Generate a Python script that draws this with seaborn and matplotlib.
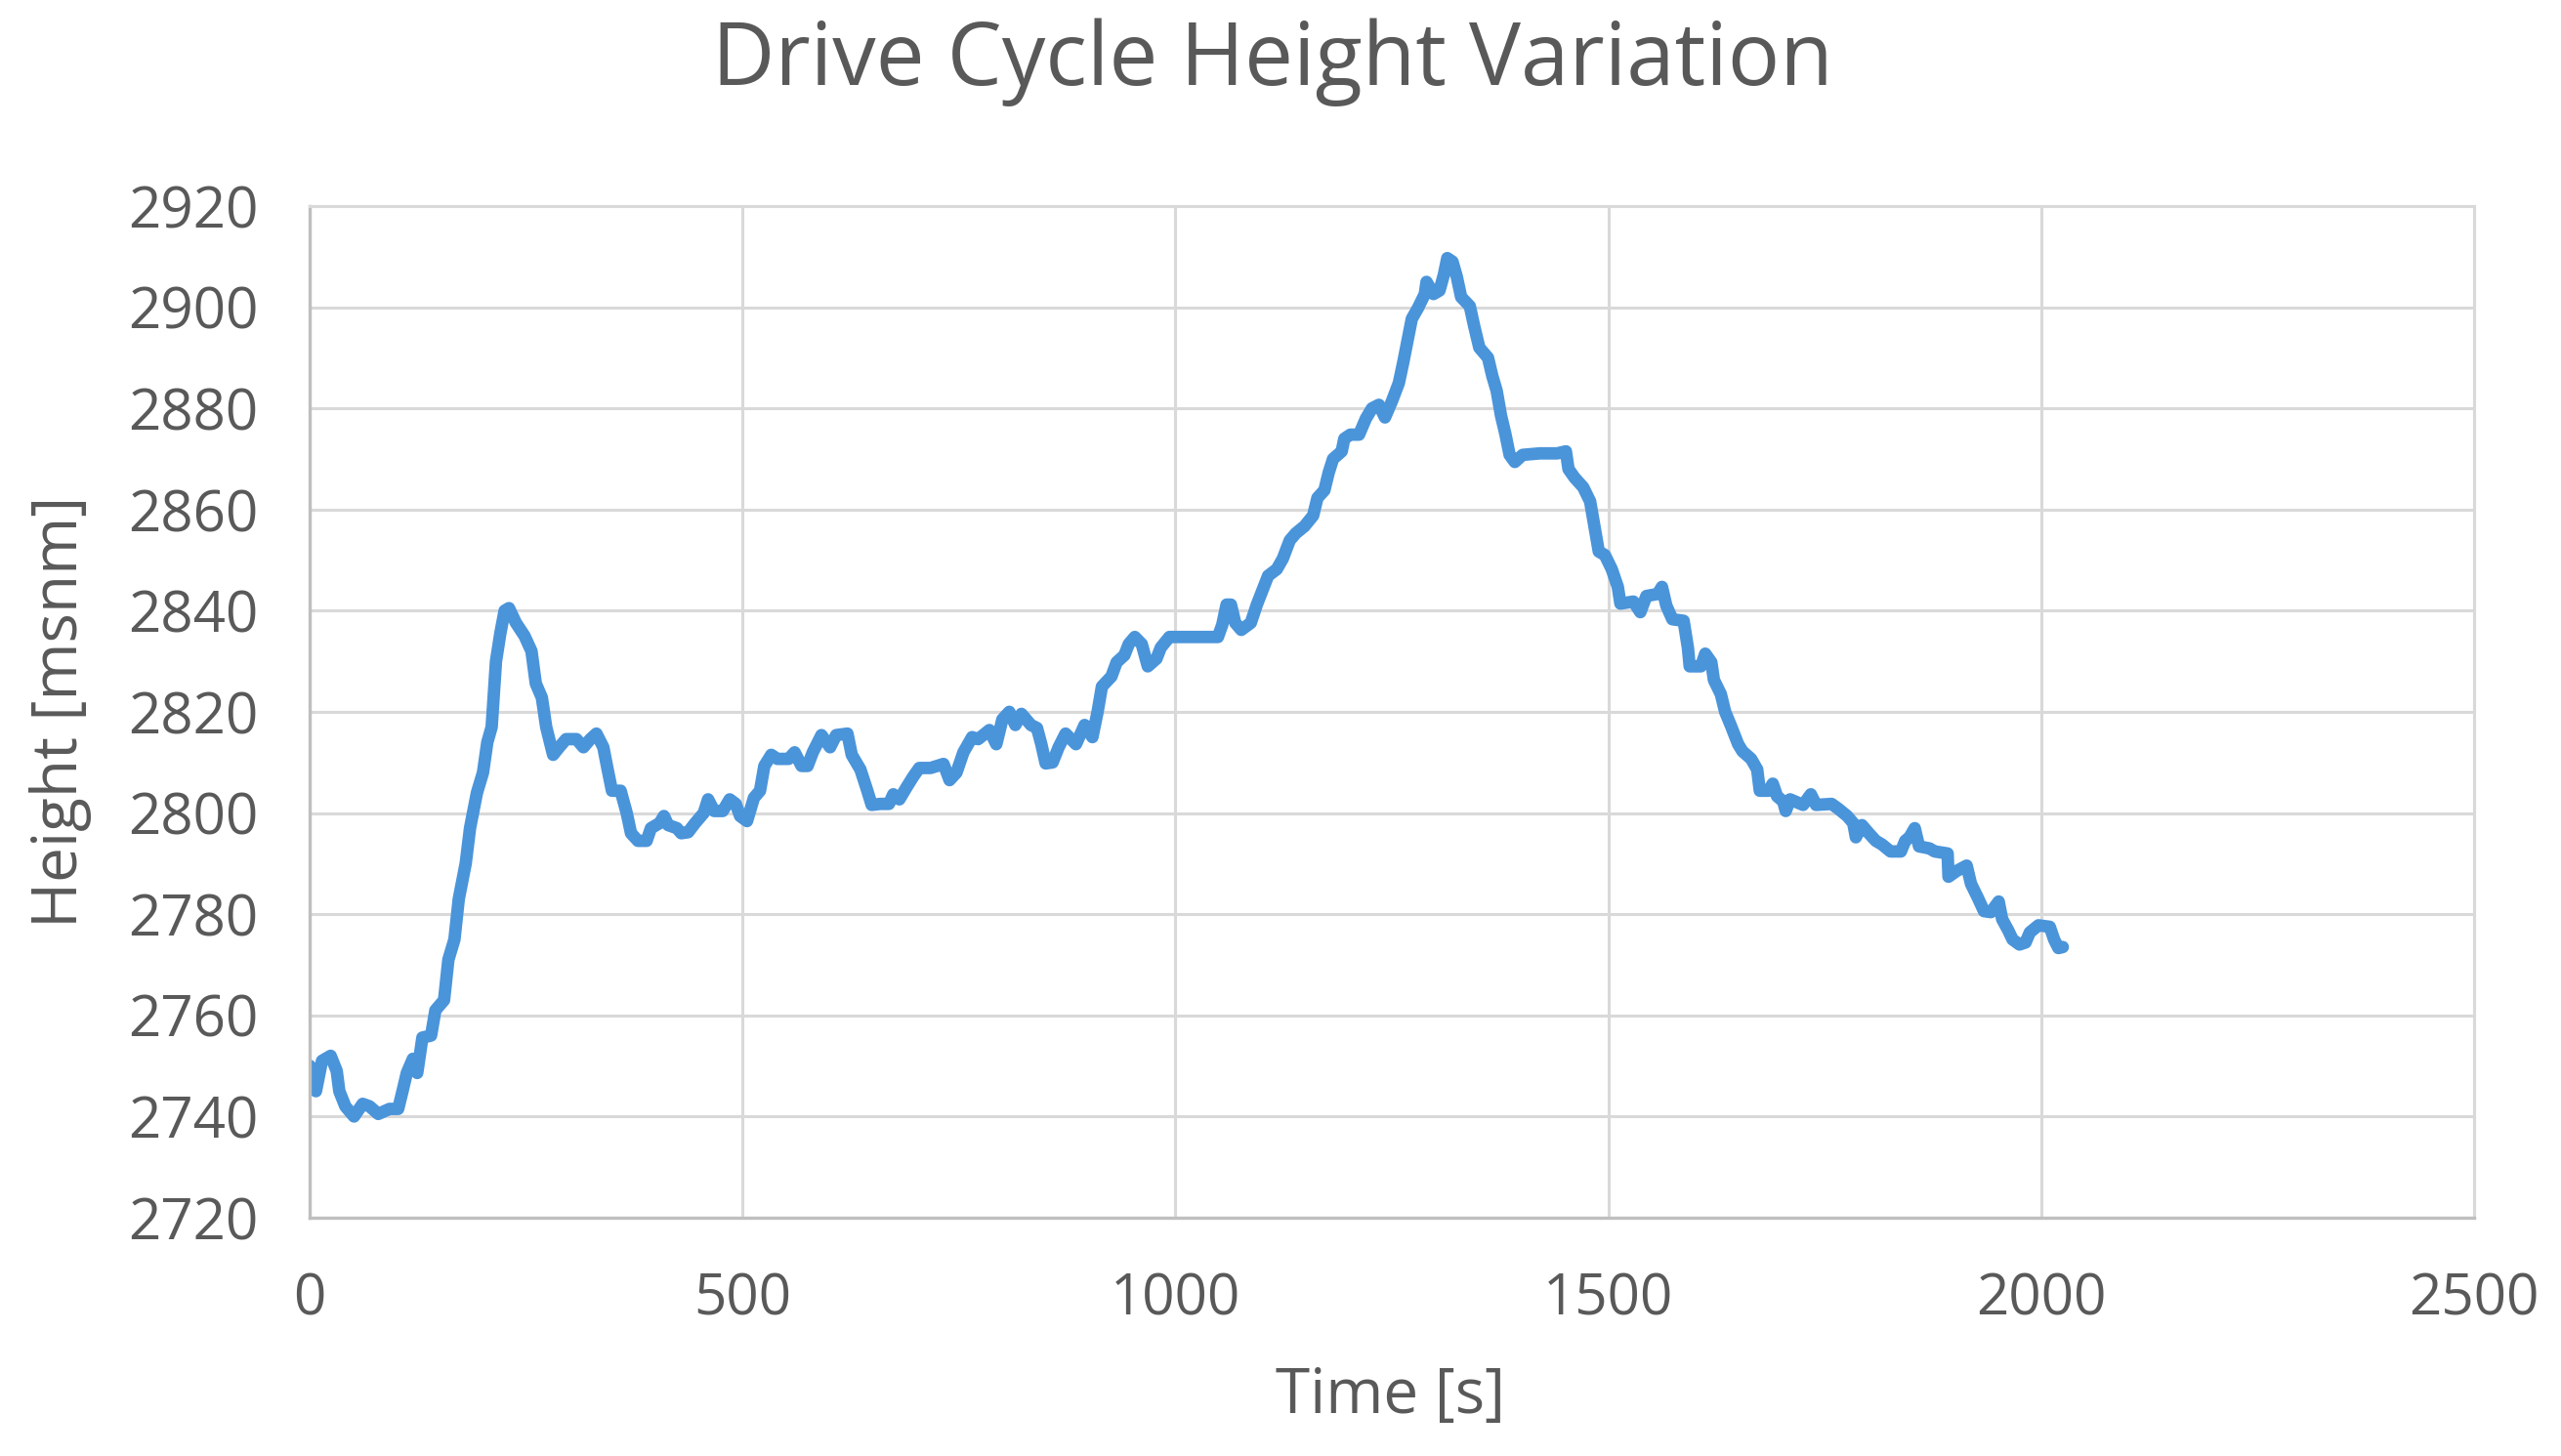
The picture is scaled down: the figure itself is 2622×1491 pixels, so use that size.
import numpy as np
import pandas as pd
import seaborn as sns
import matplotlib.pyplot as plt

# values
time_s = [
    0, 7, 14, 24, 31, 34, 41, 51, 61, 69, 79, 92, 102, 107, 112, 119, 124, 130,
    140, 145, 155, 160, 167, 172, 180, 185, 193, 200, 205, 210, 215, 220, 225,
    230, 238, 248, 256, 261, 268, 273, 281, 288, 296, 308, 316, 324, 331, 339,
    344, 349, 359, 366, 371, 379, 389, 394, 404, 409, 414, 424, 429, 437, 445,
    455, 460, 467, 477, 485, 492, 497, 505, 513, 520, 525, 533, 540, 553, 560,
    568, 575, 581, 591, 601, 608, 621, 626, 636, 644, 649, 659, 669, 674, 681,
    689, 697, 704, 717, 732, 739, 747, 755, 765, 772, 785, 793, 800, 808, 815,
    822, 833, 840, 845, 850, 858, 865, 873, 885, 895, 904, 910, 915, 926, 932,
    941, 946, 953, 961, 968, 978, 983, 993, 1049, 1054, 1059, 1064, 1069, 1076,
    1087, 1094, 1102, 1107, 1117, 1124, 1132, 1139, 1149, 1159, 1164, 1172,
    1177, 1182, 1192, 1195, 1202, 1212, 1220, 1227, 1235, 1242, 1250, 1258,
    1263, 1268, 1273, 1280, 1288, 1290, 1298, 1305, 1310, 1314, 1320, 1325,
    1330, 1340, 1345, 1351, 1361, 1366, 1371, 1376, 1381, 1386, 1392, 1401,
    1421, 1441, 1451, 1454, 1461, 1471, 1479, 1484, 1489, 1496, 1504, 1511,
    1514, 1529, 1537, 1544, 1557, 1562, 1567, 1574, 1587, 1592, 1594, 1607,
    1612, 1619, 1622, 1630, 1635, 1642, 1650, 1655, 1665, 1672, 1675, 1685,
    1690, 1695, 1702, 1705, 1710, 1725, 1734, 1740, 1758, 1766, 1776, 1783,
    1786, 1793, 1801, 1809, 1816, 1826, 1838, 1843, 1848, 1854, 1859, 1871,
    1877, 1892, 1893, 1902, 1914, 1919, 1927, 1934, 1942, 1951, 1955, 1962,
    1967, 1975, 1982, 1987, 1997, 2010, 2015, 2020, 2025,
]
height_m = [
    2750, 2745, 2751, 2752, 2749, 2745, 2742, 2740, 2742.5, 2742, 2740.5,
    2741.5, 2741.5, 2745, 2748.6, 2751.4, 2748.6, 2755.6, 2756, 2761, 2763,
    2771, 2775, 2783, 2790, 2797, 2804, 2808, 2814, 2817, 2830, 2835.5, 2840,
    2840.5, 2837.6, 2835, 2832, 2825.6, 2822.8, 2817, 2811.5, 2813, 2814.6,
    2814.6, 2813, 2814.6, 2815.7, 2813, 2808.6, 2804.4, 2804.4, 2800, 2796,
    2794.5, 2794.5, 2797, 2798, 2799.4, 2797.6, 2797, 2796, 2796.2, 2798, 2800,
    2802.7, 2800.4, 2800.4, 2802.7, 2801.8, 2799.4, 2798.4, 2803, 2804.4,
    2809.3, 2811.5, 2810.7, 2810.7, 2812, 2809.3, 2809.3, 2812, 2815.4, 2813,
    2815.4, 2815.7, 2811.5, 2808.6, 2804.4, 2801.6, 2801.8, 2801.8, 2803.7,
    2802.7, 2805, 2807.2, 2808.9, 2808.9, 2809.7, 2806.5, 2808, 2812, 2815,
    2814.6, 2816.4, 2813.6, 2818.5, 2820, 2817.4, 2819.6, 2817.4, 2816.8,
    2813.6, 2809.8, 2810, 2813, 2815.7, 2813.6, 2817.4, 2815, 2820, 2825, 2827,
    2829.8, 2831.2, 2833.4, 2834.8, 2833.4, 2829, 2830.5, 2832.7, 2834.8,
    2834.8, 2837.2, 2841.2, 2841.2, 2837.6, 2836.2, 2837.6, 2841.2, 2844.7,
    2846.9, 2848.2, 2850.3, 2853.9, 2855.3, 2856.7, 2858.8, 2862.3, 2863.8,
    2867.3, 2870, 2871.5, 2874, 2874.8, 2874.8, 2878, 2880, 2880.7, 2878.2,
    2881.4, 2885, 2889, 2893.4, 2897.7, 2899.8, 2902.6, 2905, 2902.6, 2903.3,
    2906.4, 2909.7, 2909, 2906, 2902, 2900.2, 2896.3, 2892, 2890, 2886.4,
    2883.5, 2878.6, 2875, 2870.8, 2869.4, 2870.8, 2871.1, 2871.1, 2871.5, 2868,
    2866.3, 2864.4, 2861.6, 2856.7, 2851.7, 2851, 2848.2, 2844.7, 2841.4,
    2841.8, 2839.7, 2842.9, 2843.3, 2844.7, 2841, 2838.3, 2838, 2832.6, 2829,
    2829, 2831.5, 2829.8, 2826.3, 2823.5, 2820, 2817.1, 2813.6, 2812.2, 2810.7,
    2808.6, 2804.4, 2804.4, 2805.8, 2803.3, 2802.3, 2800.4, 2802.7, 2801.6,
    2803.7, 2801.6, 2801.8, 2800.8, 2799.4, 2798, 2795.2, 2797.6, 2796, 2794.5,
    2793.8, 2792.4, 2792.4, 2794.5, 2795.2, 2797, 2793.4, 2793, 2792.4, 2792,
    2787.4, 2788.5, 2789.6, 2786, 2783.2, 2780.6, 2780.4, 2782.5, 2779, 2776.8,
    2775, 2774, 2774.4, 2776.4, 2777.8, 2777.5, 2775, 2773.3, 2773.5,
]

x_ticks = [0, 500, 1000, 1500, 2000, 2500]
y_ticks = [2720, 2740, 2760, 2780, 2800, 2820, 2840, 2860, 2880, 2900, 2920]

TEXT = "#595959"
GRID = "#D9D9D9"
LINE = "#4A94DA"

sns.set_theme(style="whitegrid")
plt.rcParams["font.family"] = ["Open Sans", "DejaVu Sans"]

df = pd.DataFrame({"time": time_s, "height": height_m})

fig = plt.figure(figsize=(13.11, 7.455), dpi=200)
ax = fig.add_axes([0.121, 0.1637, 0.845, 0.6948])

sns.lineplot(data=df, x="time", y="height", ax=ax, color=LINE,
             linewidth=4.6, solid_joinstyle="round", solid_capstyle="round")

ax.set_xlim(0, 2500)
ax.set_ylim(2720, 2920)
ax.set_xticks(x_ticks)
ax.set_yticks(y_ticks)
ax.grid(True, color=GRID, linewidth=1.1)
ax.tick_params(axis="both", length=0, labelsize=21, colors=TEXT)
ax.tick_params(axis="y", pad=19)
ax.tick_params(axis="x", pad=20)
for side in ["top", "right"]:
    ax.spines[side].set_color(GRID)
    ax.spines[side].set_linewidth(1.1)
for side in ["left", "bottom"]:
    ax.spines[side].set_color("#BFBFBF")
    ax.spines[side].set_linewidth(1.2)

ax.set_xlabel("")
ax.set_ylabel("")
fig.text(0.543, 0.041, "Time [s]", ha="center", va="center", fontsize=23, color=TEXT)
fig.text(0.0236, 0.511, "Height [msnm]", ha="center", va="center", rotation=90,
         fontsize=23, color=TEXT)
fig.text(0.497, 0.957, "Drive Cycle Height Variation", ha="center", va="center",
         fontsize=32, color=TEXT)

fig.savefig("out.png", dpi=200)
plt.close(fig)
